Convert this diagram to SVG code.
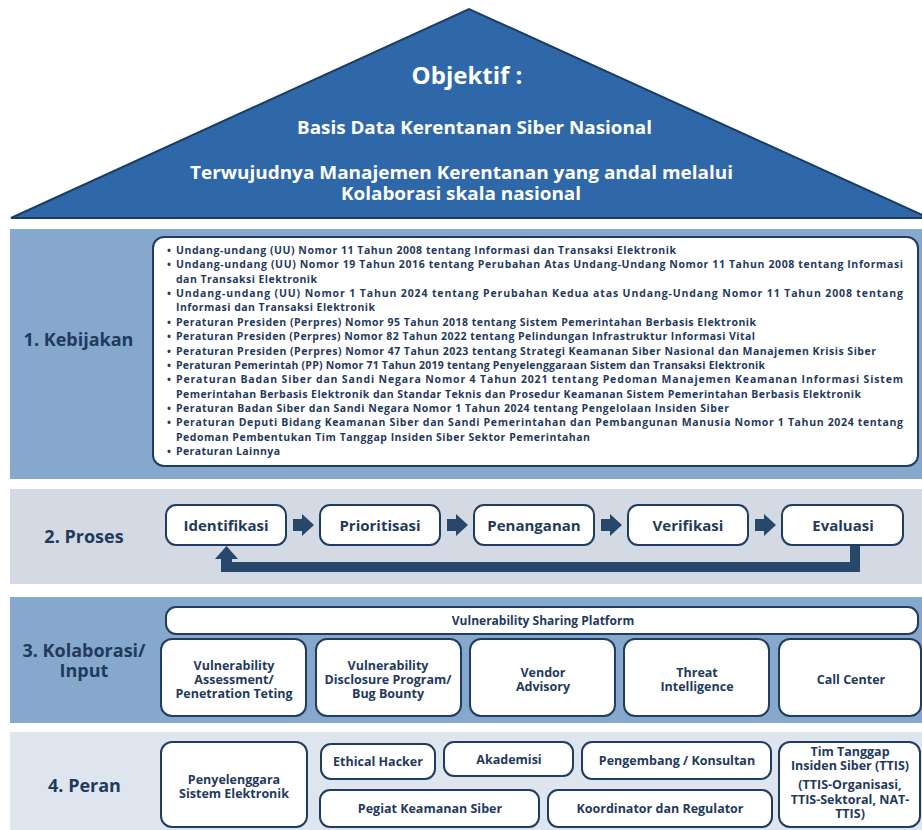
<svg xmlns="http://www.w3.org/2000/svg" xmlns:xlink="http://www.w3.org/1999/xlink" width="922" height="830" viewBox="0 0 922 830">
<defs>
<style>
.bandA{fill:#87a8cd}
.bandB{fill:#d3dae4}
.bandC{fill:#dfe5ee}
.box{fill:#ffffff;stroke:#1f3d60;stroke-width:2}
.t{font-family:"Open Sans","Liberation Sans",sans-serif;font-weight:700;fill:#1f3a5c;text-anchor:middle}
.w{fill:#ffffff}
.sec{font-size:18px}
.proc{font-size:15px}
.sm{font-size:12.5px}
.pol{font-family:"Open Sans","Liberation Sans",sans-serif;font-weight:700;fill:#1f3a5c;font-size:10.5px}
.conn{fill:#27476b}
</style>
<path id="arr" d="M0,-6 H9 V-11 L21,0 L9,11 V6 H0 Z"/>
</defs>
<rect width="922" height="830" fill="#ffffff"/>

<g id="roof">
<polygon points="11,218 469,9 929,218" fill="#2f68a9" stroke="#1c3d63" stroke-width="2"/>
<text class="t w" x="467" y="84" font-size="24">Objektif :</text>
<text class="t w" x="474.5" y="133.5" font-size="18.5" textLength="355" lengthAdjust="spacingAndGlyphs">Basis Data Kerentanan Siber Nasional</text>
<text class="t w" x="461.5" y="178.5" font-size="18.5" textLength="543" lengthAdjust="spacingAndGlyphs">Terwujudnya Manajemen Kerentanan  yang andal melalui</text>
<text class="t w" x="461" y="199.5" font-size="18.5" textLength="240" lengthAdjust="spacingAndGlyphs">Kolaborasi skala nasional</text>
</g>

<g id="bands">
<rect class="bandA" x="10" y="229" width="912" height="250"/>
<rect class="bandB" x="10" y="489" width="912" height="95"/>
<rect class="bandA" x="10" y="597" width="912" height="126"/>
<rect class="bandC" x="10" y="732" width="912" height="98"/>
<text class="t sec" x="78.5" y="346">1. Kebijakan</text>
<text class="t sec" x="84" y="543">2. Proses</text>
<text class="t sec" x="84" y="657">3. Kolaborasi/</text>
<text class="t sec" x="84" y="677">Input</text>
<text class="t sec" x="84.5" y="792">4. Peran</text>
</g>

<g id="kebijakan">
<rect class="box" x="153" y="237" width="765" height="229" rx="11"/>
<g class="pol">
<text x="167" y="254">•</text><text x="176" y="254" textLength="500" lengthAdjust="spacing">Undang-undang (UU) Nomor 11 Tahun 2008 tentang Informasi dan Transaksi Elektronik</text>
<text x="167" y="268.4">•</text><text x="176" y="268.4" textLength="727" lengthAdjust="spacing">Undang-undang (UU) Nomor 19 Tahun 2016 tentang Perubahan Atas Undang-Undang Nomor 11 Tahun 2008 tentang Informasi</text>
<text x="176" y="282.7" textLength="141" lengthAdjust="spacing">dan Transaksi Elektronik</text>
<text x="167" y="297.1">•</text><text x="176" y="297.1" textLength="727" lengthAdjust="spacing">Undang-undang (UU) Nomor 1 Tahun 2024 tentang Perubahan Kedua atas Undang-Undang Nomor 11 Tahun 2008 tentang</text>
<text x="176" y="311.4" textLength="199" lengthAdjust="spacing">Informasi dan Transaksi Elektronik</text>
<text x="167" y="325.8">•</text><text x="176" y="325.8" textLength="580" lengthAdjust="spacing">Peraturan Presiden (Perpres) Nomor 95 Tahun 2018 tentang Sistem Pemerintahan Berbasis Elektronik</text>
<text x="167" y="340.2">•</text><text x="176" y="340.2" textLength="579" lengthAdjust="spacing">Peraturan Presiden (Perpres) Nomor 82 Tahun 2022 tentang Pelindungan Infrastruktur Informasi Vital</text>
<text x="167" y="354.5">•</text><text x="176" y="354.5" textLength="700" lengthAdjust="spacing">Peraturan Presiden (Perpres) Nomor 47 Tahun 2023 tentang Strategi Keamanan Siber Nasional dan Manajemen Krisis Siber</text>
<text x="167" y="368.9">•</text><text x="176" y="368.9" textLength="589" lengthAdjust="spacing">Peraturan Pemerintah (PP) Nomor 71 Tahun 2019 tentang Penyelenggaraan Sistem dan Transaksi Elektronik</text>
<text x="167" y="383.2">•</text><text x="176" y="383.2" textLength="727" lengthAdjust="spacing">Peraturan Badan Siber dan Sandi Negara Nomor 4 Tahun 2021 tentang Pedoman Manajemen Keamanan Informasi Sistem</text>
<text x="176" y="397.6" textLength="685" lengthAdjust="spacing">Pemerintahan Berbasis Elektronik dan Standar Teknis dan Prosedur Keamanan Sistem Pemerintahan Berbasis Elektronik</text>
<text x="167" y="412">•</text><text x="176" y="412" textLength="553" lengthAdjust="spacing">Peraturan Badan Siber dan Sandi Negara Nomor 1 Tahun 2024 tentang Pengelolaan Insiden Siber</text>
<text x="167" y="426.3">•</text><text x="176" y="426.3" textLength="727" lengthAdjust="spacing">Peraturan Deputi Bidang Keamanan Siber dan Sandi Pemerintahan dan Pembangunan Manusia Nomor 1 Tahun 2024 tentang</text>
<text x="176" y="440.7" textLength="414" lengthAdjust="spacing">Pedoman Pembentukan Tim Tanggap Insiden Siber Sektor Pemerintahan</text>
<text x="167" y="455">•</text><text x="176" y="455" textLength="104" lengthAdjust="spacing">Peraturan Lainnya</text>
</g>
</g>

<g id="connectors" class="conn">
<use xlink:href="#arr" x="293" y="525"/>
<use xlink:href="#arr" x="447" y="525"/>
<use xlink:href="#arr" x="601" y="525"/>
<use xlink:href="#arr" x="755" y="525"/>
<path d="M850,545 H860 V572 H221 V559 H215 L226.5,546 L238,559 H232 V562 H850 Z"/>
</g>

<g id="p-identifikasi"><rect class="box" x="166" y="505" width="120" height="40" rx="10"/><text class="t proc" x="226" y="530.5">Identifikasi</text></g>
<g id="p-prioritisasi"><rect class="box" x="320" y="505" width="120" height="40" rx="10"/><text class="t proc" x="380" y="530.5">Prioritisasi</text></g>
<g id="p-penanganan"><rect class="box" x="474" y="505" width="120" height="40" rx="10"/><text class="t proc" x="534" y="530.5">Penanganan</text></g>
<g id="p-verifikasi"><rect class="box" x="628" y="505" width="120" height="40" rx="10"/><text class="t proc" x="688" y="530.5">Verifikasi</text></g>
<g id="p-evaluasi"><rect class="box" x="782" y="505" width="121" height="40" rx="10"/><text class="t proc" x="843" y="530.5">Evaluasi</text></g>

<g id="k-platform"><rect class="box" x="166" y="607" width="752" height="27" rx="10"/><text class="t" font-size="12" x="543" y="624.5">Vulnerability Sharing Platform</text></g>
<g id="k-va"><rect class="box" x="161" y="639" width="145" height="77" rx="11"/><text class="t sm" x="234" y="669.5">Vulnerability</text><text class="t sm" x="234" y="683.5">Assessment/</text><text class="t sm" x="234" y="697.5">Penetration Teting</text></g>
<g id="k-vdp"><rect class="box" x="316" y="639" width="145" height="77" rx="11"/><text class="t sm" x="388" y="669.5">Vulnerability</text><text class="t sm" x="388" y="683.5">Disclosure Program/</text><text class="t sm" x="388" y="697.5">Bug Bounty</text></g>
<g id="k-vendor"><rect class="box" x="470" y="639" width="145" height="77" rx="11"/><text class="t sm" x="543" y="676.5">Vendor</text><text class="t sm" x="543" y="690.5">Advisory</text></g>
<g id="k-threat"><rect class="box" x="624" y="639" width="145" height="77" rx="11"/><text class="t sm" x="697" y="676.5">Threat</text><text class="t sm" x="697" y="690.5">Intelligence</text></g>
<g id="k-call"><rect class="box" x="779" y="639" width="142" height="77" rx="11"/><text class="t sm" x="851" y="683.5">Call Center</text></g>

<g id="r-pse"><rect class="box" x="161" y="742" width="146" height="85" rx="11"/><text class="t sm" x="234" y="783.5">Penyelenggara</text><text class="t sm" x="234" y="797.5">Sistem Elektronik</text></g>
<g id="r-ethical"><rect class="box" x="321" y="744" width="114" height="35" rx="10"/><text class="t sm" x="378" y="766">Ethical Hacker</text></g>
<g id="r-akademisi"><rect class="box" x="444" y="742" width="129" height="34" rx="10"/><text class="t sm" x="509" y="764">Akademisi</text></g>
<g id="r-pengembang"><rect class="box" x="582" y="742" width="189" height="37" rx="10"/><text class="t sm" x="677" y="765">Pengembang / Konsultan</text></g>
<g id="r-pegiat"><rect class="box" x="320" y="790" width="219" height="37" rx="10"/><text class="t sm" x="430" y="813">Pegiat Keamanan Siber</text></g>
<g id="r-koordinator"><rect class="box" x="548" y="790" width="224" height="37" rx="10"/><text class="t sm" x="660" y="813">Koordinator dan Regulator</text></g>
<g id="r-ttis"><rect class="box" x="779" y="742" width="141" height="85" rx="11"/><text class="t sm" x="850" y="755.5">Tim Tanggap</text><text class="t sm" x="850" y="769.5">Insiden Siber (TTIS)</text><text class="t sm" x="850" y="789">(TTIS-Organisasi,</text><text class="t sm" x="850" y="803.5">TTIS-Sektoral, NAT-</text><text class="t sm" x="850" y="818">TTIS)</text></g>
</svg>
